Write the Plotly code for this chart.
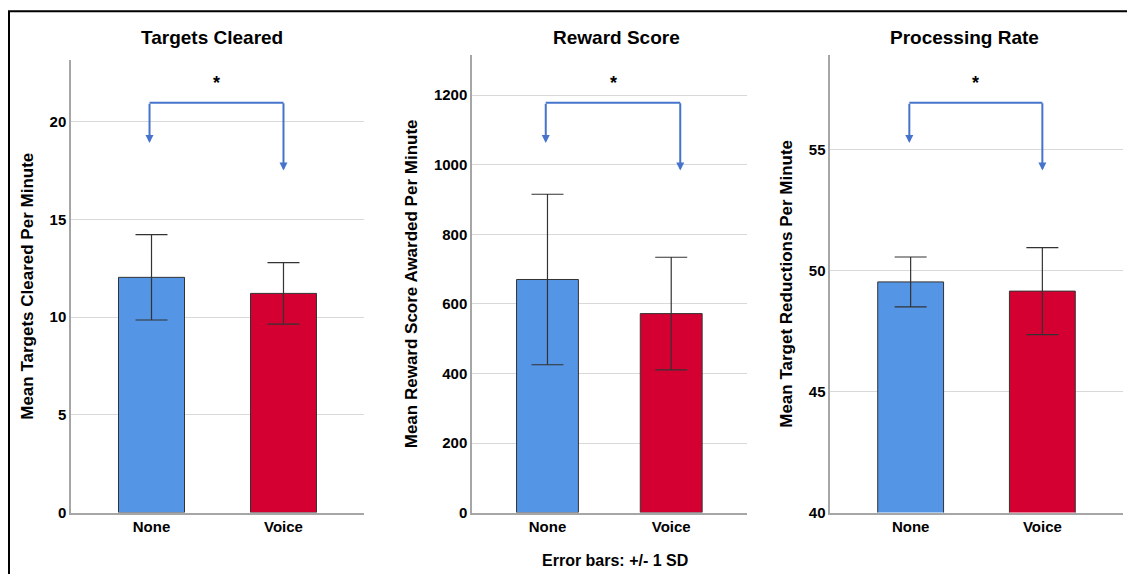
import plotly.graph_objects as go

categories = ["None", "Voice"]
targets_mean = [12.03, 11.21]
targets_sd = [2.18, 1.57]
reward_mean = [670, 572]
reward_sd = [245, 162]
rate_mean = [49.53, 49.15]
rate_sd = [1.03, 1.80]

titles = ["Targets Cleared", "Reward Score", "Processing Rate"]
ytitles = ["Mean Targets Cleared Per Minute",
           "Mean Reward Score Awarded Per Minute",
           "Mean Target Reductions Per Minute"]
yranges = [[0, 23.15], [0, 1315], [40, 58.9]]
dticks = [5, 200, 5]
means = [targets_mean, reward_mean, rate_mean]
sds = [targets_sd, reward_sd, rate_sd]
footnote = "Error bars: +/- 1 SD"
star = "*"

# the page places the figure 8px in from the top-left corner;
# the captured picture is squeezed slightly in height
OFF = 8
VS = 574 / 583
W, H = 1135 - OFF, 575
FONT = "Liberation Sans, Arial, sans-serif"
BLUE = "#5595E5"
RED = "#D50032"
BRACKET = "#4674CC"

def px_x(p):
    return (p - OFF) / W

def px_y(p):
    return 1 - (p / VS - OFF) / H

xdom_px = [(71, 364), (472, 746.7), (830.3, 1122.7)]
ytop_px = [59.7, 54.9, 54.9]
ybot_px = 511.7
title_cx = [212, 616, 964]
bracket_x = [(-0.015, 1.0), (-0.014, 1.073), (-0.01, 1.0)]

fig = go.Figure()
layout = dict(width=W, height=H, margin=dict(l=0, r=0, t=0, b=0),
              plot_bgcolor="white", paper_bgcolor="white", showlegend=False,
              font=dict(family=FONT, color="black"))
annotations = []
shapes = []

for i in range(3):
    xa = "x" if i == 0 else f"x{i+1}"
    ya = "y" if i == 0 else f"y{i+1}"
    fig.add_trace(go.Bar(
        x=categories, y=means[i], width=0.5,
        marker=dict(color=[BLUE, RED], line=dict(color="#333333", width=1)),
        error_y=dict(type="data", array=sds[i], color="#333333", thickness=1.2, width=16),
        xaxis=xa, yaxis=ya, hoverinfo="skip"))
    xkey = "xaxis" if i == 0 else f"xaxis{i+1}"
    ykey = "yaxis" if i == 0 else f"yaxis{i+1}"
    layout[xkey] = dict(domain=[px_x(xdom_px[i][0]), px_x(xdom_px[i][1])],
                        anchor=ya, range=[-0.61, 1.61], showline=True,
                        linecolor="#a6a6a6", linewidth=1.5, ticks="",
                        tickfont=dict(size=15, family=FONT, color="black", weight="bold"),
                        showgrid=False, fixedrange=True)
    layout[ykey] = dict(domain=[px_y(ybot_px), px_y(ytop_px[i])],
                        anchor=xa, range=yranges[i], dtick=dticks[i],
                        showline=True, linecolor="#a6a6a6", linewidth=1.5,
                        showgrid=True, gridcolor="#d9d9d9", gridwidth=1,
                        zeroline=False, ticks="",
                        tickfont=dict(size=15, family=FONT, color="black", weight="bold"),
                        title=dict(text=ytitles[i], standoff=12,
                                   font=dict(size=17, family=FONT, color="black", weight="bold")),
                        fixedrange=True)
    # panel title
    annotations.append(dict(text=f"<b>{titles[i]}</b>", x=px_x(title_cx[i]), y=px_y(37),
                            xref="paper", yref="paper", xanchor="center", yanchor="middle",
                            showarrow=False, font=dict(size=19, family=FONT, color="black")))
    # significance bracket
    bl, br = bracket_x[i]
    yb = px_y(102.5)
    shapes.append(dict(type="line", xref=xa, yref="paper", x0=bl, x1=br, y0=yb, y1=yb,
                       line=dict(color=BRACKET, width=2)))
    for xi, tip in [(bl, 142.7), (br, 170.2)]:
        annotations.append(dict(text="", x=xi, y=px_y(tip), xref=xa, yref="paper",
                                ax=0, ay=-(tip - 102.5) / VS, showarrow=True,
                                arrowhead=2, arrowsize=0.8, arrowwidth=2,
                                arrowcolor=BRACKET, standoff=0))
    annotations.append(dict(text=f"<b>{star}</b>", x=(bl + br) / 2, y=px_y(83), xref=xa, yref="paper",
                            xanchor="center", yanchor="middle",
                            showarrow=False, font=dict(size=18, family=FONT, color="black")))

annotations.append(dict(text=f"<b>{footnote}</b>", x=px_x(615), y=px_y(560),
                        xref="paper", yref="paper", xanchor="center", yanchor="middle",
                        showarrow=False, font=dict(size=16, family=FONT, color="black")))

shapes.append(dict(type="rect", xref="paper", yref="paper",
                   x0=px_x(9), x1=1.02, y0=-0.02, y1=px_y(11),
                   line=dict(color="black", width=2)))

layout["annotations"] = annotations
layout["shapes"] = shapes
fig.update_layout(**layout)
fig.write_html("out.html")
